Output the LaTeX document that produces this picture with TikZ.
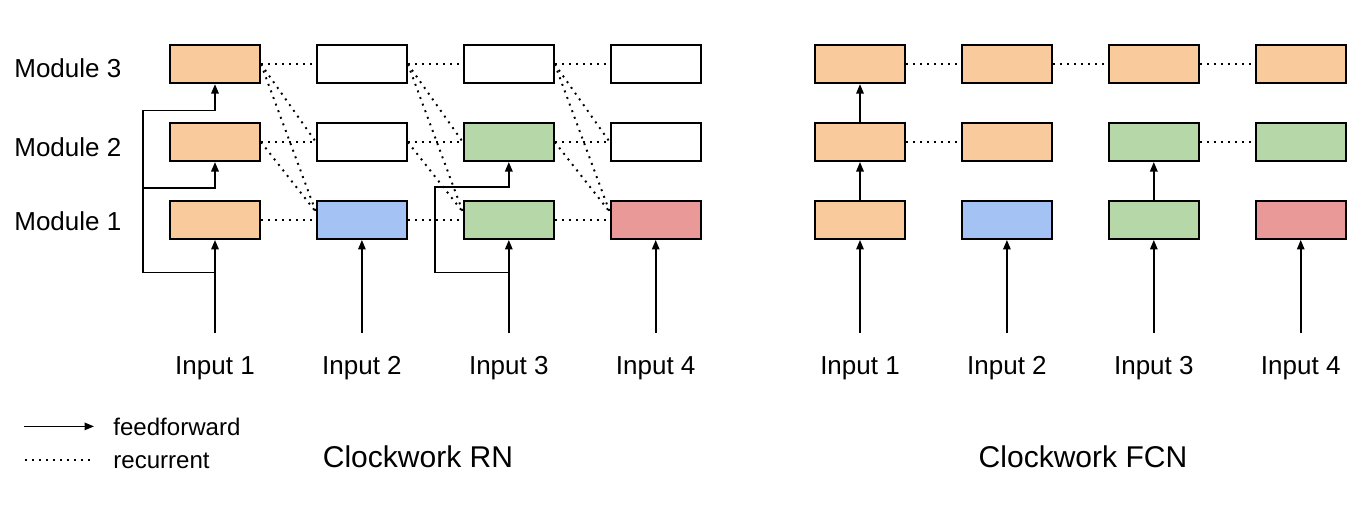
\documentclass[tikz,border=0pt]{standalone}
\usepackage{fontspec}
\setmainfont{Liberation Sans}
\usetikzlibrary{positioning,arrows.meta}

\definecolor{cwOrange}{HTML}{F9CB9C}
\definecolor{cwBlue}{HTML}{A4C2F4}
\definecolor{cwGreen}{HTML}{B6D7A8}
\definecolor{cwRed}{HTML}{EA9999}

\begin{document}
\begin{tikzpicture}[x=0.02cm, y=-0.02cm, node distance=0.76cm and 1.1cm,
	module/.style={rectangle, draw=black, line width=1.1pt, fill=white, minimum width=1.8cm, minimum height=0.76cm, inner sep=0pt},
	ff/.style={-{Triangle[length=1.9mm,width=1.5mm]}, line width=0.9pt},
	rec/.style={line width=1.1pt, dash pattern=on 1.1pt off 2.9pt},
	txt/.style={inner sep=0pt, font=\fontsize{14.8}{18}\selectfont},
	title/.style={inner sep=0pt, font=\fontsize{17.1}{21}\selectfont},
	legend/.style={inner sep=0pt, font=\fontsize{13.7}{16}\selectfont}]
	\useasboundingbox (0,0) rectangle (1368,506);

	% Clockwork RN
	\node (rn11) [module, fill=cwOrange] at (215,220) {};
	\node (rn12) [module, fill=cwOrange, above=of rn11] {};
	\node (rn13) [module, fill=cwOrange, above=of rn12] {};
	\node (rn21) [module, fill=cwBlue, right=of rn11] {};
	\node (rn22) [module, above=of rn21] {};
	\node (rn23) [module, above=of rn22] {};
	\node (rn31) [module, fill=cwGreen, right=of rn21] {};
	\node (rn32) [module, fill=cwGreen, above=of rn31] {};
	\node (rn33) [module, above=of rn32] {};
	\node (rn41) [module, fill=cwRed, right=of rn31] {};
	\node (rn42) [module, above=of rn41] {};
	\node (rn43) [module, above=of rn42] {};

	\node (mod3) [txt, anchor=base west] at (14,77.7) {Module 3};
	\node (mod2) [txt, anchor=base west] at (14,157) {Module 2};
	\node (mod1) [txt, anchor=base west] at (14,230.7) {Module 1};

	\node (rnin1) [txt, anchor=base] at (rn11 |- 0,374) {Input 1};
	\node (rnin2) [txt, anchor=base] at (rn21 |- 0,374) {Input 2};
	\node (rnin3) [txt, anchor=base] at (rn31 |- 0,374) {Input 3};
	\node (rnin4) [txt, anchor=base] at (rn41 |- 0,374) {Input 4};

	\coordinate (rnf1) at (rn11 |- 0,333);
	\coordinate (rnf2) at (rn21 |- 0,333);
	\coordinate (rnf3) at (rn31 |- 0,333);
	\coordinate (rnf4) at (rn41 |- 0,333);
	\coordinate (rnj1) at (rn11 |- 0,272.7);
	\coordinate (rnj3) at (rn31 |- 0,272.7);
	\coordinate (rnb13) at (143,110.7);
	\coordinate (rnb12) at (143,188);
	\coordinate (rnb32) at (435,187);

	\draw[ff] (rnf1) -- (rn11.south);
	\draw[ff] (rnf2) -- (rn21.south);
	\draw[ff] (rnf3) -- (rn31.south);
	\draw[ff] (rnf4) -- (rn41.south);
	\draw[ff] (rnj1) -| (rnb13) -| (rn13.south);
	\draw[ff] (rnb12) -| (rn12.south);
	\draw[ff] (rnj3) -| (rnb32) -| (rn32.south);

	\draw[rec] (rn13.east) -- (rn23.west);
	\draw[rec] (rn13.east) -- (rn22.west);
	\draw[rec] (rn13.east) -- ([yshift=0.16cm]rn21.west);
	\draw[rec] (rn12.east) -- (rn22.west);
	\draw[rec] (rn12.east) -- ([yshift=0.16cm]rn21.west);
	\draw[rec] (rn11.east) -- (rn21.west);
	\draw[rec] (rn23.east) -- (rn33.west);
	\draw[rec] (rn23.east) -- (rn32.west);
	\draw[rec] (rn23.east) -- ([yshift=0.16cm]rn31.west);
	\draw[rec] (rn22.east) -- (rn32.west);
	\draw[rec] (rn22.east) -- ([yshift=0.16cm]rn31.west);
	\draw[rec] (rn21.east) -- (rn31.west);
	\draw[rec] (rn33.east) -- (rn43.west);
	\draw[rec] (rn33.east) -- (rn42.west);
	\draw[rec] (rn33.east) -- ([yshift=0.16cm]rn41.west);
	\draw[rec] (rn32.east) -- (rn42.west);
	\draw[rec] (rn32.east) -- ([yshift=0.16cm]rn41.west);
	\draw[rec] (rn31.east) -- (rn41.west);

	\node (rntitle) [title, anchor=base] at (418,467.7) {Clockwork RN};

	% Clockwork FCN
	\node (fc11) [module, fill=cwOrange] at (860,220) {};
	\node (fc12) [module, fill=cwOrange, above=of fc11] {};
	\node (fc13) [module, fill=cwOrange, above=of fc12] {};
	\node (fc21) [module, fill=cwBlue, right=of fc11] {};
	\node (fc22) [module, fill=cwOrange, above=of fc21] {};
	\node (fc23) [module, fill=cwOrange, above=of fc22] {};
	\node (fc31) [module, fill=cwGreen, right=of fc21] {};
	\node (fc32) [module, fill=cwGreen, above=of fc31] {};
	\node (fc33) [module, fill=cwOrange, above=of fc32] {};
	\node (fc41) [module, fill=cwRed, right=of fc31] {};
	\node (fc42) [module, fill=cwGreen, above=of fc41] {};
	\node (fc43) [module, fill=cwOrange, above=of fc42] {};

	\node (fcin1) [txt, anchor=base] at (fc11 |- 0,374) {Input 1};
	\node (fcin2) [txt, anchor=base] at (fc21 |- 0,374) {Input 2};
	\node (fcin3) [txt, anchor=base] at (fc31 |- 0,374) {Input 3};
	\node (fcin4) [txt, anchor=base] at (fc41 |- 0,374) {Input 4};

	\coordinate (fcf1) at (fc11 |- 0,333);
	\coordinate (fcf2) at (fc21 |- 0,333);
	\coordinate (fcf3) at (fc31 |- 0,333);
	\coordinate (fcf4) at (fc41 |- 0,333);

	\draw[ff] (fcf1) -- (fc11.south);
	\draw[ff] (fcf2) -- (fc21.south);
	\draw[ff] (fcf3) -- (fc31.south);
	\draw[ff] (fcf4) -- (fc41.south);
	\draw[ff] (fc11.north) -- (fc12.south);
	\draw[ff] (fc12.north) -- (fc13.south);
	\draw[ff] (fc31.north) -- (fc32.south);

	\draw[rec] (fc13.east) -- (fc23.west);
	\draw[rec] (fc23.east) -- (fc33.west);
	\draw[rec] (fc33.east) -- (fc43.west);
	\draw[rec] (fc12.east) -- (fc22.west);
	\draw[rec] (fc32.east) -- (fc42.west);

	\node (fctitle) [title, anchor=base] at (1083,467.7) {Clockwork FCN};

	% legend
	\node (legff) [legend, anchor=base west] at (113,435) {feedforward};
	\node (legrec) [legend, anchor=base west] at (113,468) {recurrent};
	\draw[ff] ([xshift=-1.78cm]legff.west) -- ([xshift=-0.38cm]legff.west);
	\draw[rec] ([xshift=-1.76cm]legrec.west) -- ([xshift=-0.46cm]legrec.west);
\end{tikzpicture}
\end{document}
